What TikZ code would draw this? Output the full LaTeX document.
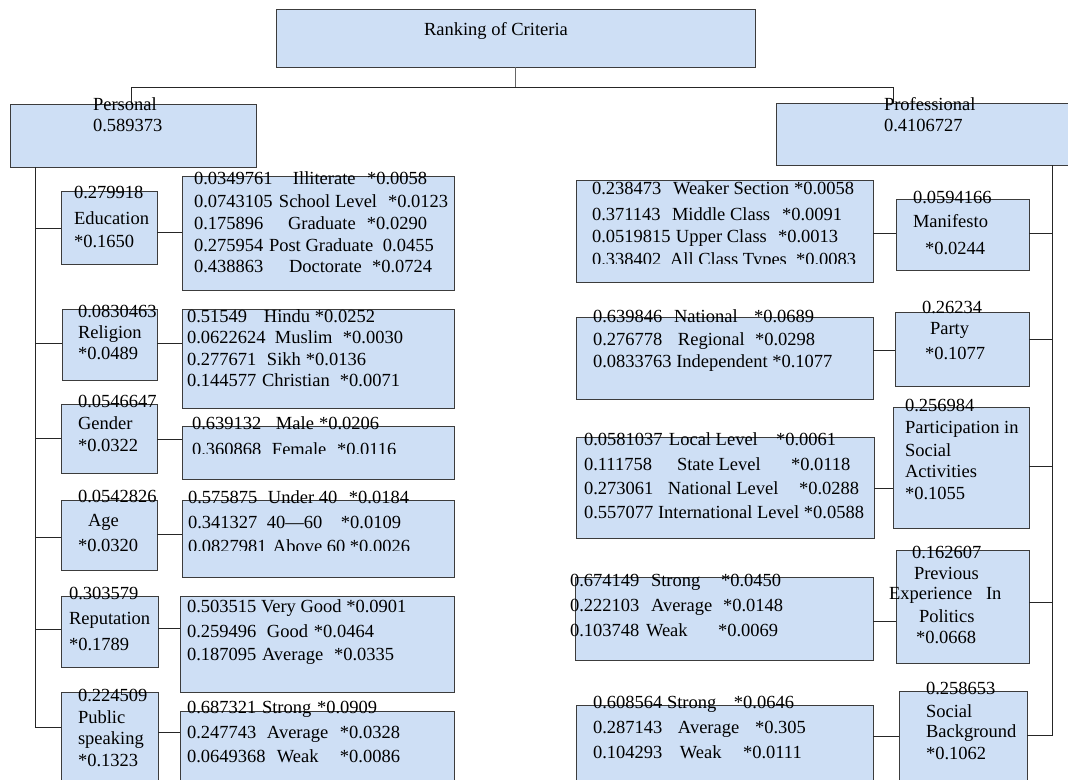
\documentclass[tikz,border=0pt]{standalone}
\usepackage{fontspec}
\setmainfont{Liberation Serif}
\definecolor{boxfill}{RGB}{206,223,245}
\definecolor{boxline}{RGB}{60,60,60}
\newcommand\cb[2]{\makebox[#1pt][l]{#2}}
\newcommand\tx[4]{\node[tx] (#1) at (#2,#3) {#4};}
\begin{document}
\begin{tikzpicture}[x=1pt,y=-1pt,
  tx/.style={anchor=base west, inner sep=0pt, outer sep=0pt, font=\fontsize{18.5}{22}\selectfont},
  bx/.style={draw=boxline, line width=1pt, fill=boxfill, anchor=north west, inner sep=0pt, outer sep=0pt},
  cn/.style={line width=1pt, draw=black!85}]
\useasboundingbox (0,0) rectangle (1068,779);
\clip (0,0) rectangle (1068,779);
% ---------- boxes ----------
\node[bx, minimum width=479pt, minimum height=58pt] (root) at (276,9) {};
\node[bx, minimum width=246pt, minimum height=63pt] (pers) at (10,104) {};
\node[bx, minimum width=299pt, minimum height=62pt] (prof) at (776,103) {};
% left criteria
\node[bx, minimum width=96pt, minimum height=73pt] (edu) at (61,191) {};
\node[bx, minimum width=95pt, minimum height=71pt] (rel) at (62,309) {};
\node[bx, minimum width=96pt, minimum height=69pt] (gen) at (61,404) {};
\node[bx, minimum width=96pt, minimum height=70pt] (age) at (61,500) {};
\node[bx, minimum width=97pt, minimum height=71pt] (rep) at (61,596) {};
\node[bx, minimum width=97pt, minimum height=98pt] (pub) at (61,692) {};
% left details
\node[bx, minimum width=272pt, minimum height=114pt] (edud) at (182,176) {};
\node[bx, minimum width=272pt, minimum height=99pt] (reld) at (182,309) {};
\node[bx, minimum width=272pt, minimum height=53pt] (gend) at (182,426) {};
\node[bx, minimum width=272pt, minimum height=77pt] (aged) at (182,500) {};
\node[bx, minimum width=274pt, minimum height=96pt] (repd) at (180,596) {};
\node[bx, minimum width=274pt, minimum height=79pt] (pubd) at (180,711) {};
% right details
\node[bx, minimum width=297pt, minimum height=102pt] (clsd) at (576,180) {};
\node[bx, minimum width=297pt, minimum height=82pt] (ptyd) at (576,317) {};
\node[bx, minimum width=298pt, minimum height=101pt] (lvld) at (576,437) {};
\node[bx, minimum width=298pt, minimum height=83pt] (expd) at (575,577) {};
\node[bx, minimum width=297pt, minimum height=85pt] (socd) at (576,705) {};
% right criteria
\node[bx, minimum width=133pt, minimum height=71pt] (man) at (896,199) {};
\node[bx, minimum width=134pt, minimum height=74pt] (pty) at (895,312) {};
\node[bx, minimum width=136pt, minimum height=121pt] (par) at (893,407) {};
\node[bx, minimum width=133pt, minimum height=113pt] (exp) at (896,550) {};
\node[bx, minimum width=128pt, minimum height=99pt] (soc) at (899,691) {};
% ---------- connectors ----------
\coordinate (bl) at (131,87);
\coordinate (br) at (893,87);
\coordinate (lt) at (35,0);
\coordinate (rt) at (1052,0);
\draw[cn, draw=black!60] (root.south) -- (root.south |- bl);
\draw[cn] (pers.north -| bl) -- (bl) -- (br) -- (prof.north -| br);
% left trunk
\draw[cn] (pers.south -| lt) -- (lt |- 0,727) -- (pub.west |- 0,727);
\draw[cn] (lt |- 0,228) -- (edu.west |- 0,228);
\draw[cn] (lt |- 0,343) -- (rel.west |- 0,343);
\draw[cn] (lt |- 0,438) -- (gen.west |- 0,438);
\draw[cn] (lt |- 0,537) -- (age.west |- 0,537);
\draw[cn] (lt |- 0,629) -- (rep.west |- 0,629);
\draw[cn] (edu.east |- 0,232) -- (edud.west |- 0,232);
\draw[cn] (rel.east |- 0,343) -- (reld.west |- 0,343);
\draw[cn] (gen.east |- 0,439) -- (gend.west |- 0,439);
\draw[cn] (age.east |- 0,534) -- (aged.west |- 0,534);
\draw[cn] (rep.east |- 0,628) -- (repd.west |- 0,628);
\draw[cn] (pub.east |- 0,732) -- (pubd.west |- 0,732);
% right trunk
\draw[cn] (prof.south -| rt) -- (rt |- 0,735) -- (soc.east |- 0,735);
\draw[cn] (rt |- 0,233) -- (man.east |- 0,233);
\draw[cn] (rt |- 0,339) -- (pty.east |- 0,339);
\draw[cn] (rt |- 0,466) -- (par.east |- 0,466);
\draw[cn] (rt |- 0,602) -- (exp.east |- 0,602);
\draw[cn] (clsd.east |- 0,233) -- (man.west |- 0,233);
\draw[cn] (ptyd.east |- 0,350) -- (pty.west |- 0,350);
\draw[cn] (lvld.east |- 0,488) -- (par.west |- 0,488);
\draw[cn] (expd.east |- 0,621) -- (exp.west |- 0,621);
\draw[cn] (socd.east |- 0,736) -- (soc.west |- 0,736);
% ---------- texts ----------
\tx{rootT}{424}{35}{Ranking of Criteria}
\tx{persA}{93}{110}{Personal}
\tx{persB}{93}{131}{0.589373}
\tx{profA}{884}{110}{Professional}
\tx{profB}{884}{131}{0.4106727}
% left criteria
\tx{eduA}{74}{198}{0.279918}
\tx{eduB}{74}{224}{Education}
\tx{eduC}{74}{247}{*0.1650}
\tx{relA}{78}{317}{0.0830463}
\tx{relB}{78}{338}{Religion}
\tx{relC}{78}{359}{*0.0489}
\tx{genA}{78}{407}{0.0546647}
\tx{genB}{78}{429}{Gender}
\tx{genC}{78}{451}{*0.0322}
\tx{ageA}{78}{502}{0.0542826}
\tx{ageB}{88}{526}{Age}
\tx{ageC}{78}{551}{*0.0320}
\tx{repA}{69}{599}{0.303579}
\tx{repB}{69}{624}{Reputation}
\tx{repC}{69}{650}{*0.1789}
\tx{pubA}{78}{701}{0.224509}
\tx{pubB}{78}{723}{Public}
\tx{pubC}{78}{744}{speaking}
\tx{pubD}{78}{766}{*0.1323}
% left details
\tx{edd1}{194}{184}{\cb{99}{0.0349761}\cb{74}{Illiterate}*0.0058}
\tx{edd2}{194}{207}{\cb{85}{0.0743105}\cb{109}{School Level}*0.0123}
\tx{edd3}{194}{229}{\cb{94}{0.175896}\cb{79}{Graduate}*0.0290}
\tx{edd4}{194}{251}{\cb{75}{0.275954}\cb{114}{Post Graduate}0.0455}
\tx{edd5}{194}{272}{\cb{95}{0.438863}\cb{83}{Doctorate}*0.0724}
\tx{rld1}{187}{322}{\cb{77}{0.51549}\cb{51}{Hindu}*0.0252}
\tx{rld2}{187}{343}{\cb{88}{0.0622624}\cb{68}{Muslim}*0.0030}
\tx{rld3}{187}{365}{\cb{80}{0.277671}\cb{39}{Sikh}*0.0136}
\tx{rld4}{187}{386}{\cb{75}{0.144577}\cb{78}{Christian}*0.0071}
\tx{gnd1}{192}{429}{\cb{84}{0.639132}\cb{43}{Male}*0.0206}
\begin{scope}
\clip (182,420) rectangle (454,453);
\tx{gnd2}{192}{455}{\cb{80}{0.360868}\cb{65}{Female}*0.0116}
\end{scope}
\tx{agd1}{188}{503}{\cb{80}{0.575875}\cb{81}{Under 40}*0.0184}
\tx{agd2}{188}{528}{\cb{79}{0.341327}\cb{74}{40—60}*0.0109}
\begin{scope}
\clip (182,520) rectangle (454,550);
\tx{agd3}{188}{552}{\cb{85}{0.0827981}\cb{77}{Above 60}*0.0026}
\end{scope}
\tx{rpd1}{187}{612}{0.503515 Very Good *0.0901}
\tx{rpd2}{187}{637}{\cb{80}{0.259496}\cb{47}{Good}*0.0464}
\tx{rpd3}{187}{660}{\cb{75}{0.187095}\cb{72}{Average}*0.0335}
\tx{pbd1}{187}{713}{\cb{75}{0.687321}\cb{55}{Strong}*0.0909}
\tx{pbd2}{187}{738}{\cb{80}{0.247743}\cb{73}{Average}*0.0328}
\tx{pbd3}{187}{762}{\cb{90}{0.0649368}\cb{63}{Weak}*0.0086}
% right details
\tx{csd1}{592}{194}{\cb{81}{0.238473}\cb{121}{Weaker Section}*0.0058}
\tx{csd2}{592}{220}{\cb{80}{0.371143}\cb{110}{Middle Class}*0.0091}
\tx{csd3}{592}{242}{\cb{84}{0.0519815}\cb{102}{Upper Class}*0.0013}
\begin{scope}
\clip (576,245) rectangle (873,263);
\tx{csd4}{592}{265}{\cb{78}{0.338402}\cb{126}{All Class Types}*0.0083}
\end{scope}
\tx{pyd1}{593}{322}{\cb{81}{0.639846}\cb{80}{National}*0.0689}
\tx{pyd2}{593}{345}{\cb{85}{0.276778}\cb{77}{Regional}*0.0298}
\tx{pyd3}{593}{367}{0.0833763 Independent *0.1077}
\tx{lvd1}{584}{445}{\cb{85}{0.0581037}\cb{107}{Local Level}*0.0061}
\tx{lvd2}{584}{470}{\cb{93}{0.111758}\cb{114}{State Level}*0.0118}
\tx{lvd3}{584}{494}{\cb{84}{0.273061}\cb{131}{National Level}*0.0288}
\tx{lvd4}{584}{518}{0.557077 International Level *0.0588}
\tx{xpd1}{570}{586}{\cb{81}{0.674149}\cb{70}{Strong}*0.0450}
\tx{xpd2}{570}{611}{\cb{81}{0.222103}\cb{72}{Average}*0.0148}
\tx{xpd3}{570}{636}{\cb{76}{0.103748}\cb{72}{Weak}*0.0069}
\tx{scd1}{593}{708}{\cb{74}{0.608564}\cb{67}{Strong}*0.0646}
\tx{scd2}{593}{733}{\cb{85}{0.287143}\cb{77}{Average}*0.305}
\tx{scd3}{593}{758}{\cb{87}{0.104293}\cb{63}{Weak}*0.0111}
% right criteria
\tx{manA}{913}{203}{0.0594166}
\tx{manB}{913}{227}{Manifesto}
\tx{manC}{925}{254}{*0.0244}
\tx{ptyA}{922}{313}{0.26234}
\tx{ptyB}{930}{334}{Party}
\tx{ptyC}{925}{359}{*0.1077}
\tx{parA}{905}{411}{0.256984}
\tx{parB}{905}{433}{Participation in}
\tx{parC}{905}{456}{Social}
\tx{parD}{905}{477}{Activities}
\tx{parE}{905}{499}{*0.1055}
\tx{expA}{912}{558}{0.162607}
\tx{expB}{914}{579}{Previous}
\tx{expC}{889}{599}{\cb{97}{Experience}In}
\tx{expD}{919}{622}{Politics}
\tx{expE}{916}{643}{*0.0668}
\tx{socA}{926}{694}{0.258653}
\tx{socB}{926}{717}{Social}
\tx{socC}{926}{737}{Background}
\tx{socD}{926}{759}{*0.1062}
\end{tikzpicture}
\end{document}
